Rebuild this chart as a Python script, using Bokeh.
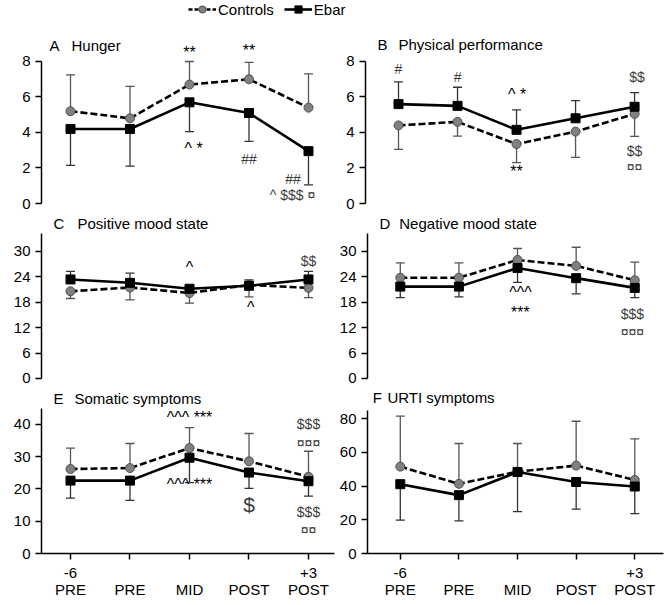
from bokeh.plotting import figure
from bokeh.models import (ColumnDataSource, Whisker, TeeHead, FixedTicker, Label,
                          Legend, LegendItem, Range1d)
from bokeh.layouts import column, row
from bokeh.embed import file_html
from bokeh.resources import INLINE
from bokeh.core.properties import value

FONT = "Liberation Sans"

# ---------------- data ----------------
time_points = [1, 2, 3, 4, 5]
time_labels = ["-6\nPRE", "\nPRE", "\nMID", "\nPOST", "+3\nPOST"]

hunger_controls = [5.2, 4.8, 6.7, 7.0, 5.4]
hunger_controls_sd = [2.05, 1.8, 1.3, 0.95, 1.9]
hunger_ebar = [4.2, 4.2, 5.7, 5.1, 2.95]
hunger_ebar_sd = [2.05, 2.1, 1.65, 1.6, 1.9]

perf_controls = [4.4, 4.6, 3.35, 4.05, 5.05]
perf_controls_sd = [1.35, 0.8, 1.05, 1.45, 1.27]
perf_ebar = [5.6, 5.5, 4.15, 4.8, 5.45]
perf_ebar_sd = [1.25, 1.05, 1.12, 1.0, 0.8]

posmood_controls = [20.6, 21.5, 20.2, 22.1, 21.4]
posmood_controls_sd = [1.7, 2.95, 2.4, 2.8, 2.3]
posmood_ebar = [23.4, 22.6, 21.2, 21.9, 23.4]
posmood_ebar_sd = [1.9, 2.3, 0.7, 1.4, 1.9]

negmood_controls = [23.8, 23.8, 28.0, 26.6, 23.2]
negmood_controls_sd = [3.5, 3.5, 2.7, 4.4, 4.3]
negmood_ebar = [21.7, 21.7, 26.1, 23.7, 21.4]
negmood_ebar_sd = [2.6, 2.4, 3.4, 3.7, 2.3]

somatic_controls = [26.2, 26.5, 32.7, 28.6, 23.8]
somatic_controls_sd = [6.5, 7.6, 6.3, 8.6, 7.9]
somatic_ebar = [22.6, 22.6, 29.7, 25.1, 22.4]
somatic_ebar_sd = [5.4, 6.1, 7.7, 4.9, 4.6]

urti_controls = [51.5, 41.3, 48.5, 52.1, 43.6]
urti_controls_sd = [29.9, 23.9, 16.7, 26.3, 24.4]
urti_ebar = [41.1, 34.6, 48.3, 42.4, 39.7]
urti_ebar_sd = [21.3, 15.3, 23.5, 16.1, 16.1]

# significance annotations: x, y, text
hunger_notes_x = [3, 4, 3.07, 4, 4.74, 4.73]
hunger_notes_y = [8.5, 8.6, 3.1, 2.5, 1.4, 0.5]
hunger_notes = ["**", "**", "^ *", "##", "##", "^ $$$ \u00a4"]

perf_notes_x = [1, 2, 3.01, 3, 5.04, 5, 5]
perf_notes_y = [7.6, 7.1, 6.15, 1.8, 7.1, 2.94, 2.04]
perf_notes = ["#", "#", "^ *", "**", "$$", "$$", "\u00a4\u00a4"]

posmood_notes_x = [3, 4.03, 5]
posmood_notes_y = [26.3, 16.7, 27.8]
posmood_notes = ["^", "^", "$$"]

negmood_notes_x = [3.05, 3.05, 4.96, 4.96]
negmood_notes_y = [20.4, 15.6, 15.3, 10.9]
negmood_notes = ["^^^", "***", "$$$", "\u00a4\u00a4\u00a4"]

somatic_notes_x = [3, 3, 5, 5, 5, 5]
somatic_notes_y = [42.2, 21.3, 40.3, 34.3, 13.0, 7.2]
somatic_notes = ["^^^ ***", "^^^ ***", "$$$", "\u00a4\u00a4\u00a4", "$$$", "\u00a4\u00a4"]
somatic_big_x = [4]
somatic_big_y = [15.3]
somatic_big = ["$"]

urti_notes_x = []
urti_notes_y = []
urti_notes = []

BLACK_SYMS = set("^*")


def note_style(texts):
    colors, sizes = [], []
    for t in texts:
        chars = set(t.replace(" ", ""))
        if chars <= BLACK_SYMS:
            colors.append("#000000")
            sizes.append("16px")
        else:
            colors.append("#3c3c3c")
            sizes.append("14px")
    return colors, sizes


def panel(width, height, mbl, mbr, mbb, xr, yr, ybounds, yticks, xaxis,
          letter, title, letter_xy, title_xy,
          ctrl, ctrl_sd, ebar, ebar_sd, ctrl_up,
          nx, ny, nt, big=None):
    p = figure(width=width, height=height, x_range=Range1d(*xr), y_range=Range1d(*yr),
               output_backend="svg", toolbar_location=None,
               min_border_left=mbl, min_border_right=mbr, min_border_top=0,
               min_border_bottom=mbb,
               x_axis_location="below" if xaxis else None)
    p.grid.visible = False
    p.outline_line_color = None
    p.background_fill_color = "white"
    p.border_fill_color = "white"

    ya = p.yaxis[0]
    ya.ticker = FixedTicker(ticks=yticks)
    ya.bounds = ybounds
    ya.axis_line_width = 1.5
    ya.axis_line_color = "black"
    ya.major_tick_out = 6
    ya.major_tick_in = 0
    ya.major_tick_line_width = 1.5
    ya.minor_tick_out = 0
    ya.minor_tick_in = 0
    ya.major_label_standoff = 5
    ya.major_label_text_font = FONT
    ya.major_label_text_font_size = "15px"
    ya.major_label_text_color = "black"

    if xaxis:
        xa = p.xaxis[0]
        xa.ticker = FixedTicker(ticks=time_points)
        xa.major_label_overrides = {t: lab for t, lab in zip(time_points, time_labels)}
        xa.axis_line_width = 1.5
        xa.axis_line_color = "black"
        xa.major_tick_out = 6
        xa.major_tick_in = 0
        xa.major_tick_line_width = 1.5
        xa.minor_tick_out = 0
        xa.minor_tick_in = 0
        xa.major_label_standoff = 4
        xa.major_label_text_font = FONT
        xa.major_label_text_font_size = "15px"
        xa.major_label_text_color = "black"
        xa.major_label_text_line_height = 1.0

    c_lo = [v if ctrl_up else v - s for v, s in zip(ctrl, ctrl_sd)]
    c_hi = [v + s if ctrl_up else v for v, s in zip(ctrl, ctrl_sd)]
    e_lo = [v - s if ctrl_up else v for v, s in zip(ebar, ebar_sd)]
    e_hi = [v if ctrl_up else v + s for v, s in zip(ebar, ebar_sd)]
    src_c = ColumnDataSource(dict(x=time_points, y=ctrl, lo=c_lo, hi=c_hi))
    src_e = ColumnDataSource(dict(x=time_points, y=ebar, lo=e_lo, hi=e_hi))

    def whisk(src, up, color):
        head = TeeHead(size=9, line_color=color, line_width=1.3)
        return Whisker(source=src, base="x", lower="lo", upper="hi", dimension="height",
                       line_color=color, line_width=1.3, level="underlay",
                       upper_head=head if up else None,
                       lower_head=None if up else head)

    p.add_layout(whisk(src_c, ctrl_up, "#555555"))
    p.add_layout(whisk(src_e, not ctrl_up, "#333333"))

    p.line("x", "y", source=src_c, line_color="black", line_width=2.6, line_dash="7 3")
    p.scatter("x", "y", source=src_c, marker="circle", size=9,
              fill_color="#808080", line_color="#505050", line_width=1)
    p.line("x", "y", source=src_e, line_color="black", line_width=2.6)
    p.scatter("x", "y", source=src_e, marker="square", size=9,
              fill_color="black", line_color="black")

    if nt:
        cols, sizes = note_style(nt)
        nsrc = ColumnDataSource(dict(x=nx, y=ny, t=nt, c=cols, s=sizes))
        p.text("x", "y", text="t", source=nsrc, text_color="c",
               text_font=value(FONT), text_font_size="s",
               text_align="center", text_baseline="middle")
    if big:
        bsrc = ColumnDataSource(dict(x=big[0], y=big[1], t=big[2]))
        p.text("x", "y", text="t", source=bsrc, text_color="#3c3c3c",
               text_font=value(FONT), text_font_size=value("21px"),
               text_align="center", text_baseline="middle")

    p.add_layout(Label(x=letter_xy[0], y=letter_xy[1], text=letter, text_font=FONT,
                       text_font_size="15px", text_baseline="middle", text_align="left",
                       text_color="black"))
    p.add_layout(Label(x=title_xy[0], y=title_xy[1], text=title, text_font=FONT,
                       text_font_size="15px", text_baseline="middle", text_align="left",
                       text_color="black"))
    return p


XR1 = (0.5126, 5.437)
XR2 = (0.4407, 5.49)
W1, W2 = 336, 330
ML1, ML2 = 41, 29
MR1, MR2 = 2, 3

pA = panel(W1, 184, ML1, MR1, 0, XR1, (-0.507, 9.859), (0, 8), [0, 2, 4, 6, 8], False,
           "A", "Hunger", (0.647, 8.9), (1.017, 8.9),
           hunger_controls, hunger_controls_sd, hunger_ebar, hunger_ebar_sd, True,
           hunger_notes_x, hunger_notes_y, hunger_notes)
pB = panel(W2, 184, ML2, MR2, 0, XR2, (-0.507, 9.859), (0, 8), [0, 2, 4, 6, 8], False,
           "B", "Physical performance", (0.644, 8.96), (1.0, 8.96),
           perf_controls, perf_controls_sd, perf_ebar, perf_ebar_sd, False,
           perf_notes_x, perf_notes_y, perf_notes)
pC = panel(W1, 175, ML1, MR1, 0, XR1, (-2.13, 39.21), (0, 34.25), [0, 6, 12, 18, 24, 30], False,
           "C", "Positive mood state", (0.714, 36.6), (1.118, 36.6),
           posmood_controls, posmood_controls_sd, posmood_ebar, posmood_ebar_sd, False,
           posmood_notes_x, posmood_notes_y, posmood_notes)
pD = panel(W2, 175, ML2, MR2, 0, XR2, (-2.13, 39.21), (0, 34.25), [0, 6, 12, 18, 24, 30], False,
           "D", "Negative mood state", (0.644, 36.6), (0.983, 36.6),
           negmood_controls, negmood_controls_sd, negmood_ebar, negmood_ebar_sd, True,
           negmood_notes_x, negmood_notes_y, negmood_notes)
pE = panel(W1, 218, ML1, MR1, 52, XR1, (0, 51.47), (0, 45), [0, 10, 20, 30, 40], True,
           "E", "Somatic symptoms", (0.714, 48.1), (1.067, 48.1),
           somatic_controls, somatic_controls_sd, somatic_ebar, somatic_ebar_sd, True,
           somatic_notes_x, somatic_notes_y, somatic_notes,
           big=(somatic_big_x, somatic_big_y, somatic_big))
pF = panel(W2, 218, ML2, MR2, 52, XR2, (0, 98.4), (0, 85), [0, 20, 40, 60, 80], True,
           "F", "URTI symptoms", (0.53, 92.4), (0.78, 92.4),
           urti_controls, urti_controls_sd, urti_ebar, urti_ebar_sd, True,
           urti_notes_x, urti_notes_y, urti_notes)

# legend strip
lg = figure(width=666, height=28, x_range=(0, 1), y_range=(0, 1), output_backend="svg",
            toolbar_location=None, min_border=0, x_axis_location=None, y_axis_location=None)
lg.grid.visible = False
lg.outline_line_color = None
hidden = ColumnDataSource(dict(x=[-10, -9], y=[-10, -9]))
r1 = lg.line("x", "y", source=hidden, line_color="black", line_width=2.6, line_dash="4 2")
r2 = lg.scatter("x", "y", source=hidden, marker="circle", size=8,
                fill_color="#808080", line_color="#505050")
r3 = lg.line("x", "y", source=hidden, line_color="black", line_width=2.6)
r4 = lg.scatter("x", "y", source=hidden, marker="square", size=8,
                fill_color="black", line_color="black")
legend = Legend(items=[LegendItem(label="Controls", renderers=[r1, r2]),
                       LegendItem(label="Ebar", renderers=[r3, r4])],
                orientation="horizontal", location=(188, 10), glyph_width=28, glyph_height=18,
                label_standoff=2, spacing=10, padding=0, margin=0,
                border_line_alpha=0, background_fill_alpha=0,
                label_text_font=FONT, label_text_font_size="15px", label_height=18,
                label_text_color="black")
lg.add_layout(legend)

layout = column(lg, row(pA, pB), row(pC, pD), row(pE, pF), spacing=0)

open("out.html", "w").write(file_html(layout, INLINE))
